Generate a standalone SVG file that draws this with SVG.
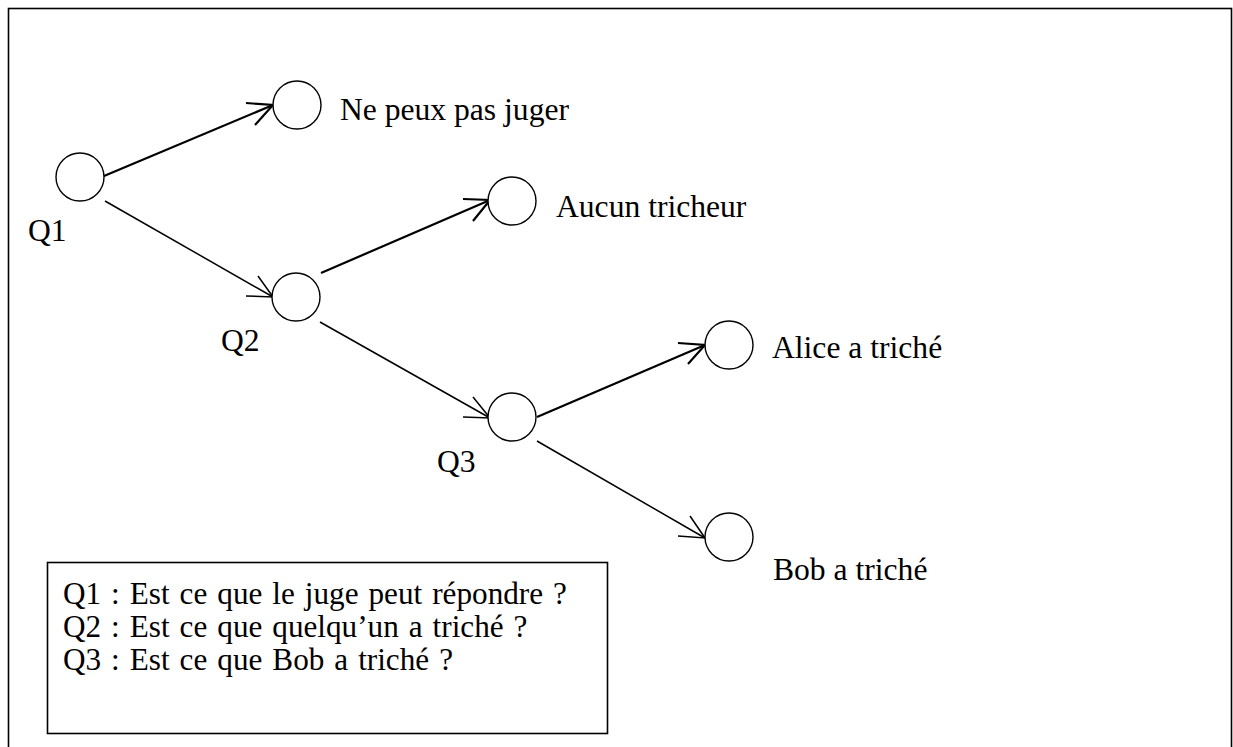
<svg xmlns="http://www.w3.org/2000/svg" width="1233" height="747" viewBox="0 0 1233 747">
  <style>
    .frame { fill: none; stroke: #000; stroke-width: 1.6; }
    .node { fill: #fff; stroke: #000; stroke-width: 1.4; }
    .lbl { font-family: "Liberation Serif", "Times New Roman", serif; font-size: 31.6px; fill: #000; }
    .leg { font-family: "Liberation Serif", "Times New Roman", serif; font-size: 31.2px; word-spacing: 2.2px; fill: #000; }
    .thick { fill: none; stroke: #000; stroke-width: 2.2; stroke-linecap: butt; }
    .thin { fill: none; stroke: #000; stroke-width: 1.5; stroke-linecap: butt; }
  </style>
  <rect width="1233" height="747" fill="#fff"/>
  <!-- outer frame (bottom edge runs past the page) -->
  <rect class="frame" x="8.5" y="8.5" width="1223" height="800"/>

  <g id="connectors">
    <!-- Q1 to "Ne peux pas juger" -->
    <line class="thick" x1="104" y1="176" x2="273" y2="105"/>
    <polyline class="thick" points="246,103 273,105 255,125"/>
    <!-- Q1 to Q2 -->
    <line class="thin" x1="105" y1="201" x2="273" y2="297"/>
    <polyline class="thin" points="246,296 273,297 258,276"/>
    <!-- Q2 to "Aucun tricheur" -->
    <line class="thick" x1="321" y1="273" x2="490" y2="200"/>
    <polyline class="thick" points="463,199 490,200 473,221"/>
    <!-- Q2 to Q3 -->
    <line class="thin" x1="320" y1="322" x2="490" y2="418"/>
    <polyline class="thin" points="463,417 490,418 473,397"/>
    <!-- Q3 to "Alice a triché" -->
    <line class="thick" x1="537" y1="417" x2="705" y2="345"/>
    <polyline class="thick" points="678,343 705,345 688,364"/>
    <!-- Q3 to "Bob a triché" -->
    <line class="thin" x1="537" y1="441" x2="705" y2="538"/>
    <polyline class="thin" points="678,536 705,538 690,516"/>
  </g>

  <g id="q1">
    <circle class="node" cx="80" cy="177" r="24"/>
    <text class="lbl" x="28" y="241">Q1</text>
  </g>
  <g id="q2">
    <circle class="node" cx="296" cy="297" r="24"/>
    <text class="lbl" x="221" y="351">Q2</text>
  </g>
  <g id="q3">
    <circle class="node" cx="512" cy="417" r="24"/>
    <text class="lbl" x="437" y="472">Q3</text>
  </g>
  <g id="leaf-ne-peux-pas-juger">
    <circle class="node" cx="297" cy="105" r="24"/>
    <text class="lbl" x="340" y="120">Ne peux pas juger</text>
  </g>
  <g id="leaf-aucun-tricheur">
    <circle class="node" cx="512" cy="201" r="24"/>
    <text class="lbl" x="556" y="217">Aucun tricheur</text>
  </g>
  <g id="leaf-alice">
    <circle class="node" cx="729" cy="345" r="24"/>
    <text class="lbl" x="772" y="358">Alice a triché</text>
  </g>
  <g id="leaf-bob">
    <circle class="node" cx="729" cy="537" r="24"/>
    <text class="lbl" x="773" y="580">Bob a triché</text>
  </g>

  <g id="legend">
    <rect class="frame" x="47.5" y="562.5" width="560" height="171"/>
    <text class="leg" x="63" y="604">Q1 : Est ce que le juge peut répondre ?</text>
    <text class="leg" x="63" y="637">Q2 : Est ce que quelqu’un a triché ?</text>
    <text class="leg" x="63" y="670">Q3 : Est ce que Bob a triché ?</text>
  </g>
</svg>
